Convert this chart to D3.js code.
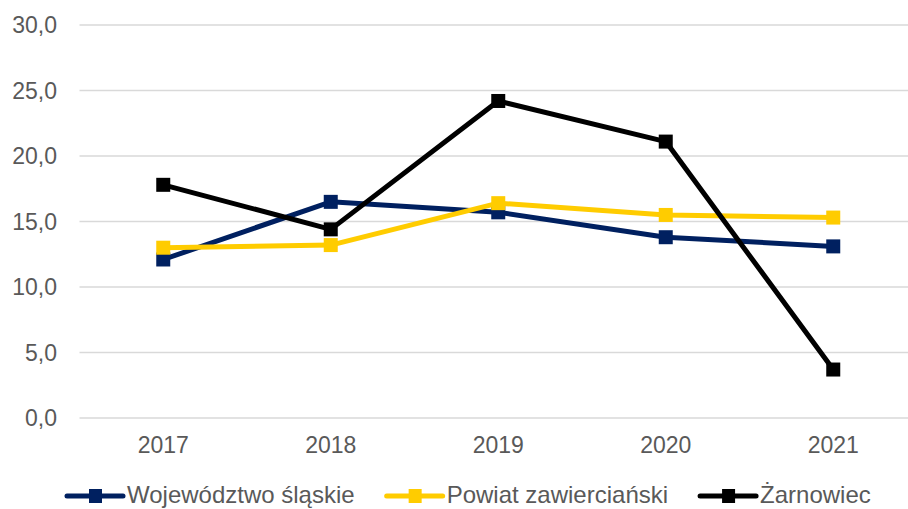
<!DOCTYPE html>
<html>
<head>
<meta charset="utf-8">
<script src="https://cdn.jsdelivr.net/npm/d3@7"></script>
<style>
  body { margin: 0; background: #fff; }
  svg { display: block; font-family: Arial, "Liberation Sans", sans-serif; }
</style>
</head>
<body>
<svg id="chart"></svg>
<script>
var years = ["2017", "2018", "2019", "2020", "2021"];
var yTicks = [0, 5, 10, 15, 20, 25, 30];
var slaskie = [12.1, 16.5, 15.7, 13.8, 13.1];
var zawiercianski = [13.0, 13.2, 16.4, 15.5, 15.3];
var zarnowiec = [17.8, 14.4, 24.2, 21.1, 3.7];

var series = [
  { name: "Województwo śląskie", values: slaskie, color: "#002060" },
  { name: "Powiat zawierciański", values: zawiercianski, color: "#FFCC00" },
  { name: "Żarnowiec", values: zarnowiec, color: "#000000" }
];

var width = 908, height = 509;
var svg = d3.select("#chart").attr("width", width).attr("height", height);

var x = d3.scaleBand().domain(years).range([79.5, 917]);
var y = d3.scaleLinear().domain([0, 30]).range([418, 25]);

// gridlines
svg.append("g").selectAll("line")
  .data(yTicks)
  .join("line")
    .attr("x1", 79.5).attr("x2", width)
    .attr("y1", d => y(d)).attr("y2", d => y(d))
    .style("stroke", "#d9d9d9")
    .style("stroke-width", 1.5);

// y labels
var fmt = d => d3.format(".1f")(d).replace(".", ",");
svg.append("g").selectAll("text")
  .data(yTicks)
  .join("text")
    .attr("x", 57)
    .attr("y", d => y(d) + 8)
    .attr("text-anchor", "end")
    .style("font-size", "23px")
    .style("fill", "#595959")
    .text(fmt);

// x labels
svg.append("g").selectAll("text")
  .data(years)
  .join("text")
    .attr("x", d => x(d) + x.bandwidth() / 2)
    .attr("y", 453)
    .attr("text-anchor", "middle")
    .style("font-size", "23px")
    .style("fill", "#595959")
    .text(d => d);

var line = d3.line()
  .x((d, i) => x(years[i]) + x.bandwidth() / 2)
  .y(d => y(d));

var m = 14;
series.forEach(function(s) {
  var g = svg.append("g");
  g.append("path")
    .datum(s.values)
    .attr("d", line)
    .style("fill", "none")
    .style("stroke", s.color)
    .style("stroke-width", 5)
    .style("stroke-linejoin", "round");
  g.selectAll("rect")
    .data(s.values)
    .join("rect")
      .attr("x", (d, i) => x(years[i]) + x.bandwidth() / 2 - m / 2)
      .attr("y", d => y(d) - m / 2)
      .attr("width", m).attr("height", m)
      .style("fill", s.color);
});

// legend
var legend = svg.append("g");
var items = legend.selectAll("g")
  .data(series)
  .join("g");
items.append("line")
  .attr("x1", 0).attr("x2", 56)
  .attr("y1", 496).attr("y2", 496)
  .style("stroke", d => d.color)
  .style("stroke-width", 5)
  .style("stroke-linecap", "round");
items.append("rect")
  .attr("x", 22).attr("y", 489)
  .attr("width", 13).attr("height", 14)
  .style("fill", d => d.color);
items.append("text")
  .attr("x", 60)
  .attr("y", 503)
  .style("font-size", "24px")
  .style("fill", "#595959")
  .text(d => d.name);

var pos = 67;
items.each(function() {
  var w = 60 + d3.select(this).select("text").node().getComputedTextLength();
  d3.select(this).attr("transform", "translate(" + pos + ",0)");
  pos += w + 32;
});
</script>
</body>
</html>
